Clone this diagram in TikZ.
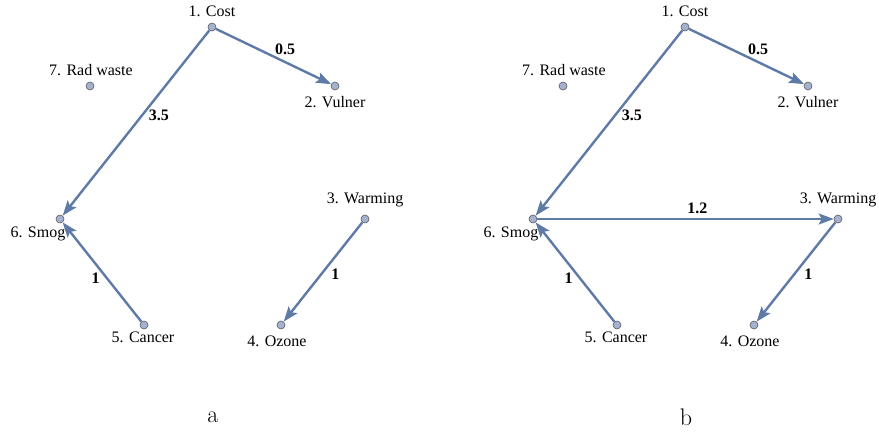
\documentclass[tikz,border=0pt]{standalone}
\usepackage{fontspec}
\setmainfont{Liberation Serif}
\newfontfamily\lmfont{Latin Modern Roman}
\usetikzlibrary{arrows.meta}
\definecolor{edgec}{RGB}{94,122,166}
\definecolor{vfill}{RGB}{164,178,206}
\definecolor{vdraw}{RGB}{90,90,100}
\tikzset{
  vert/.style={circle,inner sep=0pt,minimum size=8pt,fill=vfill,draw=vdraw,line width=0.6pt},
  vlab/.style={inner sep=0pt,font=\fontsize{16}{18}\selectfont},
  elab/.style={inner sep=0pt,font=\fontsize{16}{18}\selectfont\bfseries},
  conn/.style={draw=edgec,line width=2.4pt,-{Stealth[length=15pt,width=11pt,inset=3pt]}},
  captext/.style={inner sep=0pt,font=\lmfont\fontsize{24}{26}\selectfont}
}
\begin{document}
\begin{tikzpicture}[x=1pt,y=-1pt]
\useasboundingbox (0,0) rectangle (879,434);
% panel a
\begin{scope}
\node[vert] (a1) at (212,27) {};
\node[vert] (a2) at (335,86) {};
\node[vert] (a3) at (365,219) {};
\node[vert] (a4) at (281,325) {};
\node[vert] (a5) at (144,325) {};
\node[vert] (a6) at (60,219) {};
\node[vert] (a7) at (90,86) {};
\node[vlab] (la1) at (212,11) {1. Cost};
\node[vlab] (la2) at (335,102) {2. Vulner};
\node[vlab] (la3) at (365,200) {3. Warming};
\node[vlab] (la4) at (277,341) {4. Ozone};
\node[vlab] (la5) at (143,337) {5. Cancer};
\node[vlab] (la6) at (38,234) {6. Smog};
\node[vlab] (la7) at (91,70) {7. Rad waste};
\draw[conn] (a1) -- node[elab,pos=0.6,yshift=13pt] (ea12) {0.5} (a2);
\draw[conn] (a1) -- node[elab,pos=0.46,xshift=17pt] (ea16) {3.5} (a6);
\draw[conn] (a5) -- node[elab,pos=0.44,xshift=-11pt] (ea56) {1} (a6);
\draw[conn] (a3) -- node[elab,pos=0.52,xshift=14pt] (ea34) {1} (a4);
\node[captext] (capa) at (213,417) {a};
\end{scope}
% panel b
\begin{scope}
\node[vert] (b1) at (685,27) {};
\node[vert] (b2) at (808,86) {};
\node[vert] (b3) at (838,219) {};
\node[vert] (b4) at (754,325) {};
\node[vert] (b5) at (617,325) {};
\node[vert] (b6) at (533,219) {};
\node[vert] (b7) at (563,86) {};
\node[vlab] (lb1) at (685,11) {1. Cost};
\node[vlab] (lb2) at (808,102) {2. Vulner};
\node[vlab] (lb3) at (838,200) {3. Warming};
\node[vlab] (lb4) at (750,341) {4. Ozone};
\node[vlab] (lb5) at (616,337) {5. Cancer};
\node[vlab] (lb6) at (511,234) {6. Smog};
\node[vlab] (lb7) at (564,70) {7. Rad waste};
\draw[conn] (b1) -- node[elab,pos=0.6,yshift=13pt] (eb12) {0.5} (b2);
\draw[conn] (b1) -- node[elab,pos=0.46,xshift=17pt] (eb16) {3.5} (b6);
\draw[conn] (b5) -- node[elab,pos=0.44,xshift=-11pt] (eb56) {1} (b6);
\draw[conn] (b3) -- node[elab,pos=0.52,xshift=14pt] (eb34) {1} (b4);
\draw[conn] (b6) -- node[elab,pos=0.54,yshift=11pt] (eb63) {1.2} (b3);
\node[captext] (capb) at (686,417) {b};
\end{scope}
\end{tikzpicture}
\end{document}
